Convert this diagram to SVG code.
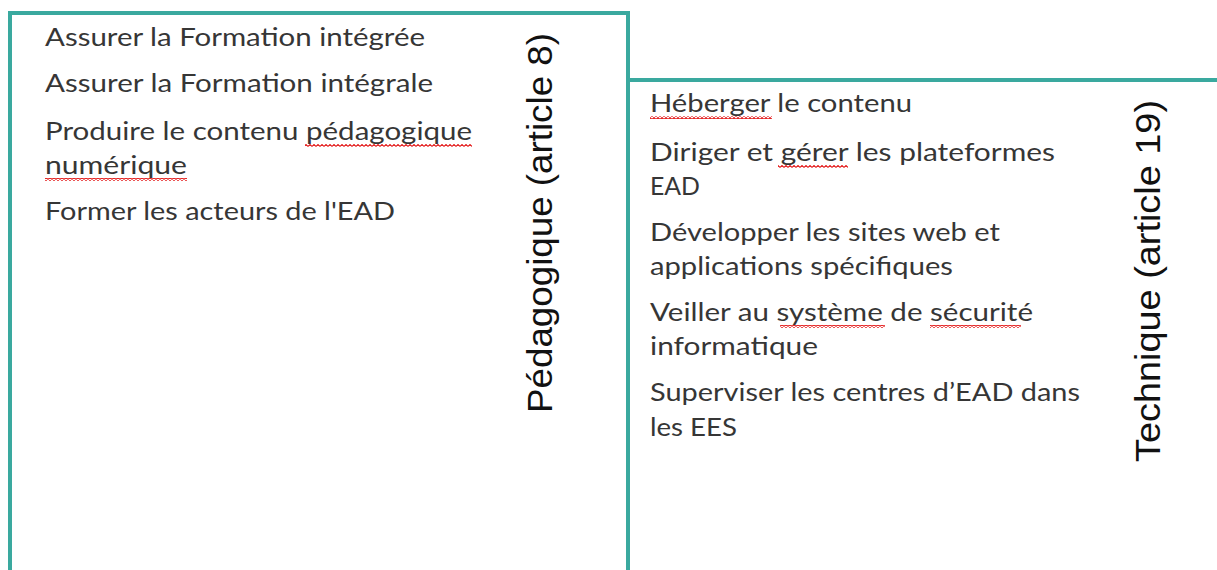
<svg xmlns="http://www.w3.org/2000/svg" width="1217" height="570" viewBox="0 0 1217 570">
<defs>
<style>
.box{fill:#ffffff;stroke:#3AA99F;stroke-width:4}
.item{font-family:Lato,"Open Sans","Liberation Sans",sans-serif;font-size:25px;fill:#363636}
.vert{font-family:"Liberation Sans",Arial,sans-serif;font-size:35px;fill:#111111}
.sq{fill:url(#squig)}
</style>
<pattern id="squig" patternUnits="userSpaceOnUse" width="4" height="3">
<path d="M0,2.4 L2,0.6 L4,2.4" fill="none" stroke="#E00000" stroke-width="1.1"/>
</pattern>
</defs>
<rect width="1217" height="570" fill="#ffffff"/>
<g id="technique">
<rect class="box" x="628" y="80" width="640" height="560"/>
<text class="item" x="650" y="112" textLength="262" lengthAdjust="spacingAndGlyphs">Héberger le contenu</text>
<text class="item" x="650" y="161" textLength="405" lengthAdjust="spacingAndGlyphs">Diriger et gérer les plateformes</text>
<text class="item" x="650" y="195" textLength="50" lengthAdjust="spacingAndGlyphs">EAD</text>
<text class="item" x="650" y="241" textLength="350" lengthAdjust="spacingAndGlyphs">Développer les sites web et</text>
<text class="item" x="650" y="275" textLength="303" lengthAdjust="spacingAndGlyphs">applications spécifiques</text>
<text class="item" x="650" y="321" textLength="383" lengthAdjust="spacingAndGlyphs">Veiller au système de sécurité</text>
<text class="item" x="650" y="355" textLength="168" lengthAdjust="spacingAndGlyphs">informatique</text>
<text class="item" x="650" y="401" textLength="430" lengthAdjust="spacingAndGlyphs">Superviser les centres d’EAD dans</text>
<text class="item" x="650" y="436" textLength="87" lengthAdjust="spacingAndGlyphs">les EES</text>
<rect class="sq" x="650" y="116" width="122" height="3"/>
<rect class="sq" x="778" y="165" width="70" height="3"/>
<rect class="sq" x="780" y="325" width="105" height="3"/>
<rect class="sq" x="930" y="325" width="91" height="3"/>
<text class="vert" transform="translate(1160,462) rotate(-90)" textLength="362" lengthAdjust="spacingAndGlyphs">Technique (article 19)</text>
</g>
<g id="pedagogique">
<rect class="box" x="10" y="13" width="618" height="620"/>
<text class="item" x="45" y="46" textLength="380" lengthAdjust="spacingAndGlyphs">Assurer la Formation intégrée</text>
<text class="item" x="45" y="92" textLength="388" lengthAdjust="spacingAndGlyphs">Assurer la Formation intégrale</text>
<text class="item" x="45" y="140" textLength="427" lengthAdjust="spacingAndGlyphs">Produire le contenu  pédagogique</text>
<text class="item" x="45" y="174" textLength="142" lengthAdjust="spacingAndGlyphs">numérique</text>
<text class="item" x="45" y="220" textLength="350" lengthAdjust="spacingAndGlyphs">Former les acteurs de l'EAD</text>
<rect class="sq" x="305" y="144" width="167" height="3"/>
<rect class="sq" x="45" y="178" width="142" height="3"/>
<text class="vert" transform="translate(552,413) rotate(-90)" textLength="380" lengthAdjust="spacingAndGlyphs">Pédagogique (article 8)</text>
</g>
<g id="connectors"/>
</svg>
